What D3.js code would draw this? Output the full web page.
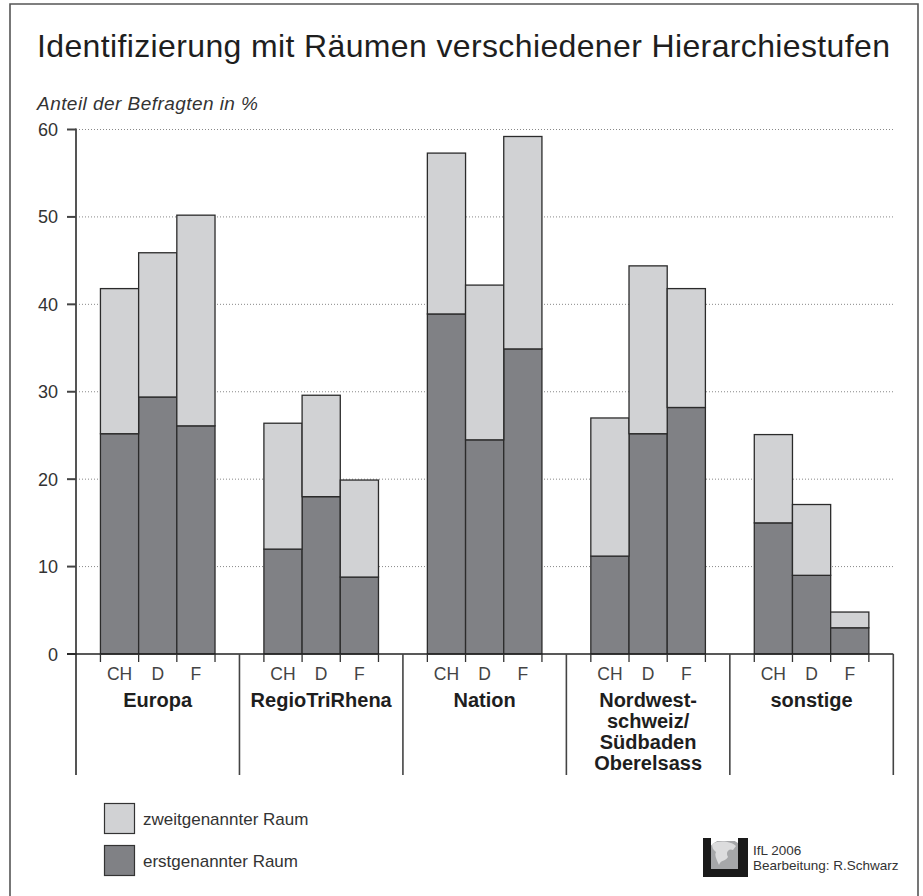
<!DOCTYPE html>
<html>
<head>
<meta charset="utf-8">
<script src="https://cdn.jsdelivr.net/npm/d3@7"></script>
<style>
  body { margin: 0; background: #fff; }
  svg { display: block; font-family: "Liberation Sans", Arial, sans-serif; }
</style>
</head>
<body>
<div id="chart"></div>
<script>
// values (Anteil der Befragten in %)
const groups = ["Europa", "RegioTriRhena", "Nation", "Nordwest", "sonstige"];
const groupLabels = [["Europa"], ["RegioTriRhena"], ["Nation"], ["Nordwest-", "schweiz/", "Südbaden", "Oberelsass"], ["sonstige"]];
const countries = ["CH", "D", "F"];
const erstgenannt = [25.2, 29.4, 26.1, 12.0, 18.0, 8.8, 38.9, 24.5, 34.9, 11.2, 25.2, 28.2, 15.0, 9.0, 3.0];
const zweitgenannt = [16.6, 16.5, 24.1, 14.4, 11.6, 11.1, 18.4, 17.7, 24.3, 15.8, 19.2, 13.6, 10.1, 8.1, 1.8];
const yTicks = [0, 10, 20, 30, 40, 50, 60];
const seriesNames = ["erstgenannter Raum", "zweitgenannter Raum"];
const seriesColors = ["#808185", "#d1d2d4"];

const W = 923, H = 896;

var rows = [];
groups.forEach((g, gi) => {
  countries.forEach((c, ci) => {
    var i = gi * 3 + ci;
    rows.push({group: g, country: c, erst: erstgenannt[i], zweit: zweitgenannt[i]});
  });
});

var svg = d3.select("#chart").append("svg")
  .attr("width", W)
  .attr("height", H);

svg.append("rect").attr("width", W).attr("height", H).attr("fill", "#fff");

// frame
svg.append("path")
  .attr("d", "M10,900 V4 H918 V900")
  .attr("fill", "none")
  .attr("stroke", "#555")
  .attr("stroke-width", 1.6);

// title + subtitle
svg.append("text")
  .attr("x", 37).attr("y", 57)
  .attr("font-size", 32)
  .attr("fill", "#1e1e1e")
  .attr("textLength", 853)
  .attr("lengthAdjust", "spacing")
  .text("Identifizierung mit Räumen verschiedener Hierarchiestufen");

svg.append("text")
  .attr("x", 37).attr("y", 110)
  .attr("font-size", 19)
  .attr("font-style", "italic")
  .attr("fill", "#333")
  .attr("textLength", 221)
  .attr("lengthAdjust", "spacing")
  .text("Anteil der Befragten in %");

// scales
var x0 = d3.scaleBand().domain(groups).range([76, 893.3]);
var x1 = d3.scaleBand().domain(countries).range([0, x0.bandwidth()]).paddingOuter(0.64);
var y = d3.scaleLinear().domain([0, 60]).range([654, 129.5]);

// grid
svg.append("g")
  .selectAll("line")
  .data(yTicks.filter(d => d > 0))
  .enter().append("line")
  .attr("x1", 76).attr("x2", 893)
  .attr("y1", d => y(d)).attr("y2", d => y(d))
  .attr("stroke", "#888")
  .attr("stroke-width", 1)
  .attr("stroke-dasharray", "1,2");

// stacked bars
var stack = d3.stack().keys(["erst", "zweit"]);
var layers = stack(rows);

svg.append("g")
  .selectAll("g")
  .data(layers)
  .enter().append("g")
  .attr("fill", (d, i) => seriesColors[i])
  .selectAll("rect")
  .data(d => d)
  .enter().append("rect")
  .attr("x", d => x0(d.data.group) + x1(d.data.country))
  .attr("y", d => y(d[1]))
  .attr("width", x1.bandwidth())
  .attr("height", d => y(d[0]) - y(d[1]))
  .attr("stroke", "#2b2b2b")
  .attr("stroke-width", 1.3);

// y axis
var yAxis = svg.append("g").attr("transform", "translate(76,0)");
yAxis.append("line")
  .attr("x1", 0).attr("x2", 0)
  .attr("y1", y(60) - 1).attr("y2", 775)
  .attr("stroke", "#555").attr("stroke-width", 2);
yAxis.selectAll(".tick")
  .data(yTicks)
  .enter().append("line")
  .attr("x1", -9).attr("x2", 0)
  .attr("y1", d => y(d)).attr("y2", d => y(d))
  .attr("stroke", "#444").attr("stroke-width", 2);
yAxis.selectAll("text")
  .data(yTicks)
  .enter().append("text")
  .attr("x", -18)
  .attr("y", d => y(d) + 6.5)
  .attr("text-anchor", "end")
  .attr("font-size", 18)
  .attr("fill", "#333")
  .text(d => d);

// x axis
var xAxis = svg.append("g");
xAxis.append("line")
  .attr("x1", 67).attr("x2", 893.3)
  .attr("y1", y(0)).attr("y2", y(0))
  .attr("stroke", "#222").attr("stroke-width", 1.6);

// group separators
xAxis.selectAll(".sep")
  .data(groups.slice(1).map(g => x0(g)).concat([x0.range()[1]]))
  .enter().append("line")
  .attr("x1", d => d).attr("x2", d => d)
  .attr("y1", y(0)).attr("y2", 775)
  .attr("stroke", "#444").attr("stroke-width", 1.6);

// small ticks at bar edges
var edgeTicks = [];
groups.forEach(g => {
  countries.forEach(c => edgeTicks.push(x0(g) + x1(c)));
  edgeTicks.push(x0(g) + x1("F") + x1.bandwidth());
});
xAxis.selectAll(".edge")
  .data(edgeTicks)
  .enter().append("line")
  .attr("x1", d => d).attr("x2", d => d)
  .attr("y1", y(0)).attr("y2", y(0) + 8)
  .attr("stroke", "#333").attr("stroke-width", 1.3);

// country labels
xAxis.selectAll(".country")
  .data(rows)
  .enter().append("text")
  .attr("x", d => x0(d.group) + x1(d.country) + x1.bandwidth() / 2)
  .attr("y", 680)
  .attr("text-anchor", "middle")
  .attr("font-size", 17.5)
  .attr("fill", "#444")
  .text(d => d.country);

// group labels
groups.forEach((g, gi) => {
  var t = xAxis.append("text")
    .attr("x", x0(g) + x0.bandwidth() / 2)
    .attr("y", 707)
    .attr("text-anchor", "middle")
    .attr("font-size", 20)
    .attr("font-weight", "bold")
    .attr("fill", "#1e1e1e");
  groupLabels[gi].forEach((line, li) => {
    t.append("tspan")
      .attr("x", x0(g) + x0.bandwidth() / 2)
      .attr("y", 707 + li * 21)
      .text(line);
  });
});

// legend
var legend = svg.append("g");
var legendItems = [1, 0];
legend.selectAll("rect")
  .data(legendItems)
  .enter().append("rect")
  .attr("x", 104.5)
  .attr("y", (d, i) => 803.5 + i * 42)
  .attr("width", 30)
  .attr("height", 30)
  .attr("fill", d => seriesColors[d])
  .attr("stroke", "#333")
  .attr("stroke-width", 1.2);
legend.selectAll("text")
  .data(legendItems)
  .enter().append("text")
  .attr("x", 143)
  .attr("y", (d, i) => 825 + i * 42)
  .attr("font-size", 17)
  .attr("fill", "#333")
  .text(d => seriesNames[d]);

// IfL logo and credits
var logo = svg.append("g").attr("transform", "translate(703,838)");
logo.append("clipPath").attr("id", "globeclip")
  .append("rect").attr("x", 7).attr("y", 3).attr("width", 30).attr("height", 28);
logo.append("circle")
  .attr("cx", 23).attr("cy", 21).attr("r", 20)
  .attr("fill", "#a6a7a9")
  .attr("clip-path", "url(#globeclip)");
logo.append("path")
  .attr("d", "M9,6 C16,2 28,3 33,8 L30,12 C26,10 22,14 25,19 C22,24 18,21 16,27 C14,22 11,18 13,14 C10,12 9,9 9,6 Z")
  .attr("fill", "#dcdcdd")
  .attr("clip-path", "url(#globeclip)");
logo.append("rect").attr("x", 0).attr("y", 0).attr("width", 8).attr("height", 39).attr("fill", "#1a1a1a");
logo.append("rect").attr("x", 35).attr("y", 0).attr("width", 10).attr("height", 39).attr("fill", "#1a1a1a");
logo.append("rect").attr("x", 0).attr("y", 31).attr("width", 45).attr("height", 8).attr("fill", "#1a1a1a");

svg.append("text")
  .attr("x", 753).attr("y", 855)
  .attr("font-size", 13.5)
  .attr("fill", "#333")
  .text("IfL 2006");
svg.append("text")
  .attr("x", 753).attr("y", 870)
  .attr("font-size", 13.5)
  .attr("fill", "#333")
  .text("Bearbeitung: R.Schwarz");
</script>
</body>
</html>
